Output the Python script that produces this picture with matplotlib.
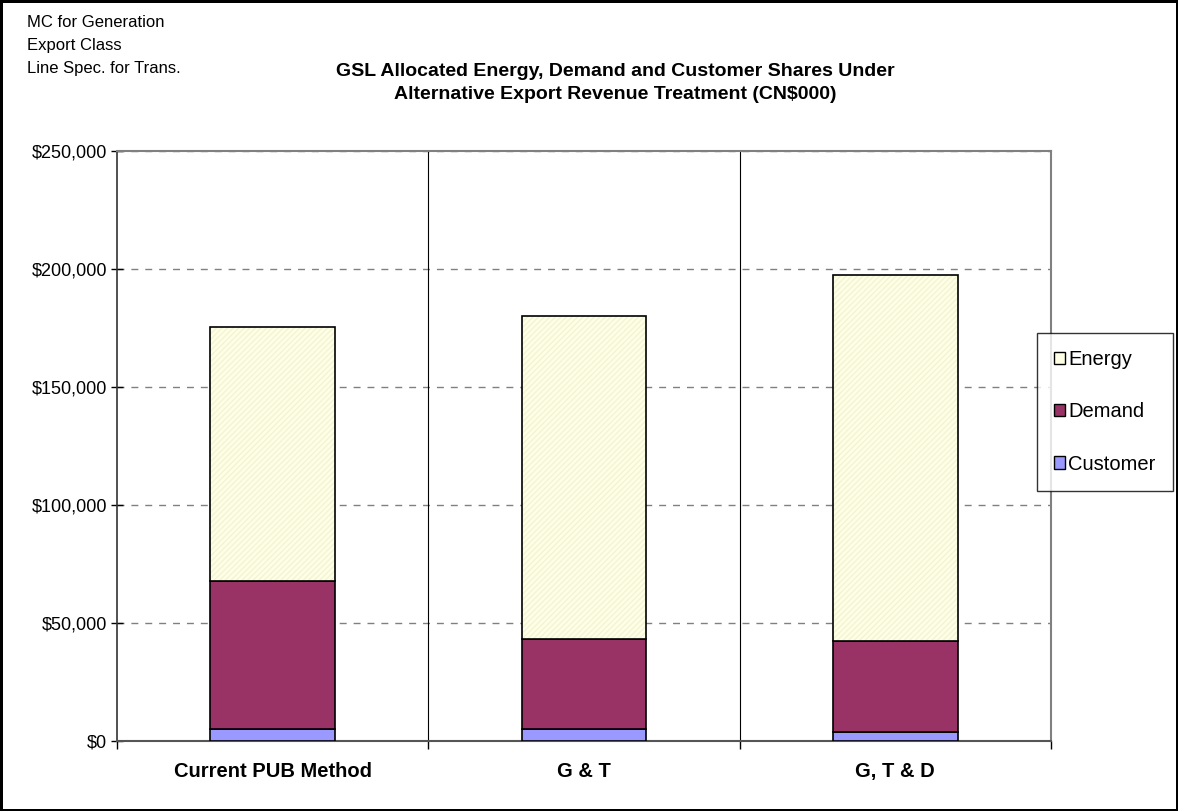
import matplotlib.pyplot as plt
import matplotlib.ticker as mticker
from matplotlib.patches import Patch
import numpy as np

plt.rcParams['font.family'] = ['Liberation Sans', 'DejaVu Sans']

# Data (CN$000, in dollars)
kategori = ['Current PUB Method', 'G & T', 'G, T & D']
customer = [5000, 5000, 4000]
demand = [62800, 38300, 38300]
energy = [107700, 136700, 155000]

warna_energy = '#FFFFE6'
warna_demand = '#993366'
warna_customer = '#9999FF'

fig = plt.figure(figsize=(11.78, 8.11), dpi=100, linewidth=2.5, edgecolor='black')
ax = fig.add_axes([0.0993, 0.0863, 0.7929, 0.7275])

x = np.arange(len(kategori))
lebar = 0.4
customer = np.array(customer)
demand = np.array(demand)
energy = np.array(energy)

ax.bar(x, customer, lebar, color=warna_customer, edgecolor='black', linewidth=1.2, zorder=3)
ax.bar(x, demand, lebar, bottom=customer, color=warna_demand, edgecolor='black', linewidth=1.2, zorder=3)
# pola halus untuk energy
ax.bar(x, energy, lebar, bottom=customer + demand, color=warna_energy,
       edgecolor='#F3F3D6', hatch='//////', linewidth=0, zorder=3)
ax.bar(x, energy, lebar, bottom=customer + demand, fill=False,
       edgecolor='black', linewidth=1.2, zorder=4)

# sumbu dan grid
ax.set_xlim(-0.5, 2.5)
ax.set_ylim(0, 250000)
ax.yaxis.set_major_locator(mticker.MultipleLocator(50000))
ax.yaxis.set_major_formatter(mticker.FuncFormatter(lambda v, p: '${:,.0f}'.format(v)))
ax.grid(axis='y', color='#808080', linestyle=(0, (5, 5)), linewidth=1.0, zorder=1)

ax.set_xticks(x)
ax.set_xticklabels(kategori, fontsize=14.5, fontweight='bold')
ax.tick_params(axis='x', which='major', length=0, pad=15)
ax.set_xticks([-0.5, 0.5, 1.5, 2.5], minor=True)
ax.tick_params(axis='x', which='minor', length=6, direction='out', width=1, color='black')
for xb in [0.5, 1.5]:
    ax.axvline(xb, color='black', linewidth=0.8, zorder=2)

ax.tick_params(axis='y', labelsize=13, length=8, direction='inout', width=1, pad=3)

for s in ['top', 'right']:
    ax.spines[s].set_color('#808080')
    ax.spines[s].set_linewidth(1.5)
ax.spines['left'].set_color('#333333')
ax.spines['bottom'].set_color('#555555')
ax.spines['left'].set_linewidth(1.2)
ax.spines['bottom'].set_linewidth(1.5)

# Judul
fig.text(0.522, 0.8975, 'GSL Allocated Energy, Demand and Customer Shares Under\n'
         'Alternative Export Revenue Treatment (CN$000)',
         ha='center', va='center', fontsize=14, fontweight='bold', linespacing=1.5)

# Catatan kiri atas
fig.text(0.023, 0.981, 'MC for Generation\nExport Class\nLine Spec. for Trans.',
         ha='left', va='top', fontsize=12, linespacing=1.65)

# Legenda
handles = [Patch(facecolor=warna_energy, edgecolor='black', label='Energy'),
           Patch(facecolor=warna_demand, edgecolor='black', label='Demand'),
           Patch(facecolor=warna_customer, edgecolor='black', label='Customer')]
leg = fig.legend(handles=handles, loc='upper left', bbox_to_anchor=(0.8803, 0.5894),
                 fontsize=14.5, frameon=True, fancybox=False, handlelength=0.55,
                 handleheight=0.55, handletextpad=0.15, labelspacing=1.65,
                 borderpad=0.85, borderaxespad=0)
leg.get_frame().set_edgecolor('black')
leg.get_frame().set_linewidth(1.0)

plt.savefig('out.png', dpi=100)
